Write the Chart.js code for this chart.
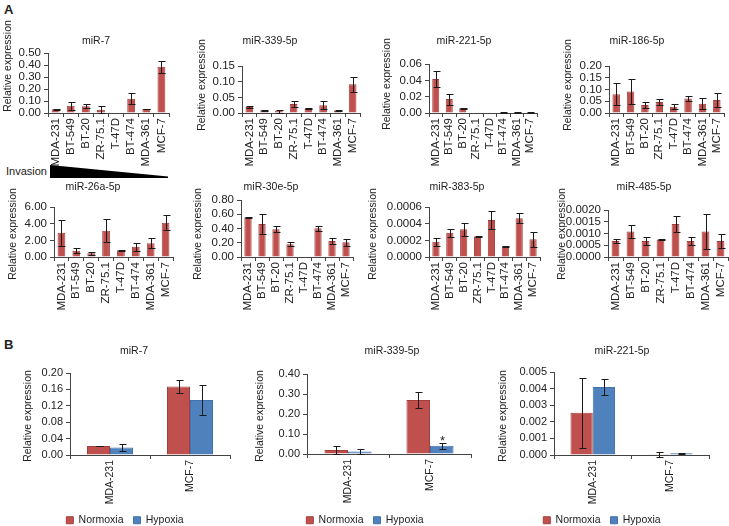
<!DOCTYPE html>
<html>
<head>
    <title>miRNA expression in breast cancer cell lines</title>
    <script src="https://cdn.jsdelivr.net/npm/chart.js"></script>
    <style>
        body {
            margin: 0;
            width: 729px;
            height: 526px;
            position: relative;
            overflow: hidden;
            background: white;
            font-family: "Liberation Sans", Arial, sans-serif;
            color: #222;
        }
        canvas { position: absolute; }
        .panel { position: absolute; font-weight: bold; font-size: 13px; }
        #invasion { position: absolute; left: 6px; top: 165px; font-size: 11px; }
        #wedge {
            position: absolute; left: 50px; top: 165px; width: 118px; height: 13px;
            background: #000;
            clip-path: polygon(0 0, 100% 88%, 100% 100%, 0 100%);
        }
    </style>
</head>
<body>
    <div class="panel" style="left:4px;top:2px">A</div>
    <div class="panel" style="left:4px;top:337px">B</div>
    <div id="invasion">Invasion</div>
    <div id="wedge"></div>

    <script>
        // ---- data ----
        const cellLines = ['MDA-231', 'BT-549', 'BT-20', 'ZR-75.1', 'T-47D', 'BT-474', 'MDA-361', 'MCF-7'];

        const mir7 = [0.032, 0.060, 0.056, 0.028, 0, 0.118, 0.034, 0.385];
        const mir7Err = [0.003, 0.032, 0.018, 0.028, null, 0.045, 0.003, 0.05];
        const mir7Ticks = ['0.00', '0.10', '0.20', '0.30', '0.40', '0.50'];

        const mir339 = [0.019, 0.009, 0.006, 0.029, 0.015, 0.025, 0.008, 0.092];
        const mir339Err = [0.002, 0.002, 0.005, 0.010, 0.002, 0.013, 0.002, 0.024];
        const mir339Ticks = ['0.00', '0.05', '0.10', '0.15'];

        const mir221 = [0.0415, 0.017, 0.0057, 0, 0, 0.0008, 0.0008, 0.0008];
        const mir221Err = [0.010, 0.0068, 0.001, null, null, 0.0002, 0.0002, 0.0006];
        const mir221Ticks = ['0.00', '0.02', '0.04', '0.06'];

        const mir186 = [0.080, 0.091, 0.034, 0.047, 0.027, 0.062, 0.039, 0.055];
        const mir186Err = [0.046, 0.052, 0.011, 0.012, 0.010, 0.010, 0.023, 0.030];
        const mir186Ticks = ['0.00', '0.05', '0.10', '0.15', '0.20'];

        const mir26a = [2.90, 0.74, 0.44, 3.16, 0.80, 1.24, 1.64, 4.10];
        const mir26aErr = [1.55, 0.30, 0.20, 1.35, 0.04, 0.47, 0.60, 0.90];
        const mir26aTicks = ['0.00', '2.00', '4.00', '6.00'];

        const mir30e = [0.557, 0.463, 0.389, 0.178, 0, 0.403, 0.225, 0.206];
        const mir30eErr = [0.004, 0.135, 0.045, 0.030, null, 0.033, 0.047, 0.053];
        const mir30eTicks = ['0.00', '0.20', '0.40', '0.60', '0.80'];

        const mir383 = [0.000184, 0.000290, 0.000332, 0.000245, 0.000444, 0.000125, 0.000464, 0.000212];
        const mir383Err = [0.00005, 0.000048, 0.00008, 0.000003, 0.00011, 0.000002, 0.00006, 0.000086];
        const mir383Ticks = ['0.0000', '0.0002', '0.0004', '0.0006'];

        const mir485 = [0.00068, 0.00108, 0.00068, 0.00074, 0.00140, 0.00068, 0.00108, 0.00068];
        const mir485Err = [0.00008, 0.00028, 0.00016, 0.00001, 0.00035, 0.00018, 0.00073, 0.00029];
        const mir485Ticks = ['0.0000', '0.0005', '0.0010', '0.0015', '0.0020'];

        // panel B: normoxia vs hypoxia
        const hypoxiaLines = ['MDA-231', 'MCF-7'];
        const conditions = ['Normoxia', 'Hypoxia'];

        const b7Normoxia = [0.022, 0.167];
        const b7NormoxiaErr = [0.001, 0.017];
        const b7Hypoxia = [0.018, 0.134];
        const b7HypoxiaErr = [0.009, 0.036];
        const b7Ticks = ['0.00', '0.04', '0.08', '0.12', '0.16', '0.20'];

        const b339Normoxia = [0.020, 0.270];
        const b339NormoxiaErr = [0.021, 0.042];
        const b339Hypoxia = [0.012, 0.041];
        const b339HypoxiaErr = [0.011, 0.014];
        const b339HypoxiaSig = ['', '*'];
        const b339Ticks = ['0.00', '0.10', '0.20', '0.30', '0.40'];

        const b221Normoxia = [0.00255, 0.00005];
        const b221NormoxiaErr = [0.0021, 0.00015];
        const b221Hypoxia = [0.0041, 0.0001];
        const b221HypoxiaErr = [0.0005, 0.00003];
        const b221Ticks = ['0.000', '0.001', '0.002', '0.003', '0.004', '0.005'];

        const RED = '#c0504d';
        const RED_EDGE = '#a23f3c';
        const BLUE = '#4f81bd';
        const BLUE_EDGE = '#4172ad';
        const FONT = '"Liberation Sans", Arial, sans-serif';

        Chart.defaults.font.family = FONT;
        Chart.defaults.color = '#222';

        // error bars + significance marks, drawn through the y scale
        const errorBars = {
            id: 'errorBars',
            afterDatasetsDraw(chart) {
                const ctx = chart.ctx;
                const y = chart.scales.y;
                ctx.save();
                ctx.strokeStyle = '#1a1a1a';
                ctx.lineWidth = 1;
                chart.data.datasets.forEach((ds, i) => {
                    if (!ds.errors) return;
                    chart.getDatasetMeta(i).data.forEach((bar, j) => {
                        const e = ds.errors[j];
                        if (e == null) return;
                        const v = ds.data[j];
                        const x = Math.round(bar.x) + 0.5;
                        const hi = Math.round(y.getPixelForValue(v + e)) + 0.5;
                        const lo = Math.round(y.getPixelForValue(v - e)) + 0.5;
                        const cap = ds.cap || 3;
                        ctx.beginPath();
                        ctx.moveTo(x, hi); ctx.lineTo(x, lo);
                        ctx.moveTo(x - cap, hi); ctx.lineTo(x + cap + 1, hi);
                        ctx.moveTo(x - cap, lo); ctx.lineTo(x + cap + 1, lo);
                        ctx.stroke();
                        if (ds.marks && ds.marks[j]) {
                            ctx.fillStyle = '#222';
                            ctx.font = '13px ' + FONT;
                            ctx.textAlign = 'center';
                            ctx.textBaseline = 'alphabetic';
                            ctx.fillText(ds.marks[j], x, hi + 1);
                        }
                    });
                });
                ctx.restore();
            }
        };

        // chart title and y-axis title at fixed spots
        const sideText = {
            id: 'sideText',
            afterDraw(chart, args, o) {
                const ctx = chart.ctx;
                ctx.save();
                ctx.fillStyle = '#222';
                ctx.textAlign = 'center';
                ctx.textBaseline = 'middle';
                ctx.font = '10.5px ' + FONT;
                ctx.fillText(o.title, o.tx, o.ty);
                ctx.translate(o.yx, o.yy);
                ctx.rotate(-Math.PI / 2);
                ctx.font = '10.5px ' + FONT;
                ctx.fillText('Relative expression', 0, 0);
                ctx.restore();
            }
        };

        function makeChart(spec) {
            const [L, T, R, B] = spec.area;
            const yW = spec.yW || 46;
            const tickSize = spec.tickSize || 11.5;
            const left = Math.floor(Math.min(spec.yTitle[0] - 9, L - yW - 2));
            const top = Math.floor(Math.min(spec.titleAt[1] - 9, T - 14, spec.yTitle[1] - 52));
            const right = R + 16;
            const bottom = Math.max(B + spec.xH + (spec.legend ? 40 : 0) + 12, spec.yTitle[1] + 52);

            const canvas = document.createElement('canvas');
            canvas.width = right - left;
            canvas.height = bottom - top;
            canvas.style.left = left + 'px';
            canvas.style.top = top + 'px';
            document.body.appendChild(canvas);

            const ticks = spec.ticks;
            const pad = { left: 0, top: 0, right: 0, bottom: 0 };

            const chart = new Chart(canvas, {
                type: 'bar',
                data: { labels: spec.labels, datasets: spec.datasets },
                options: {
                    responsive: false,
                    animation: false,
                    devicePixelRatio: 1,
                    layout: { padding: pad },
                    plugins: {
                        legend: {
                            display: !!spec.legend,
                            position: 'bottom',
                            labels: {
                                boxWidth: 7,
                                boxHeight: 7,
                                padding: 10,
                                font: { size: 10.5 },
                                color: '#222'
                            }
                        },
                        tooltip: { enabled: false },
                        sideText: {
                            title: spec.title,
                            tx: spec.titleAt[0] - left,
                            ty: spec.titleAt[1] - top,
                            yx: spec.yTitle[0] - left,
                            yy: spec.yTitle[1] - top
                        }
                    },
                    scales: {
                        x: {
                            grid: { drawOnChartArea: false, tickLength: 4, color: '#444', offset: true },
                            border: { color: '#444' },
                            ticks: {
                                minRotation: 90,
                                maxRotation: 90,
                                autoSkip: false,
                                padding: 1,
                                font: { size: spec.labelSize || 11.5 },
                                color: '#222'
                            },
                            afterFit: s => { s.height = spec.xH; }
                        },
                        y: {
                            min: 0,
                            max: parseFloat(ticks[ticks.length - 1]),
                            grid: { drawOnChartArea: false, tickLength: 4, color: '#444' },
                            border: { color: '#444' },
                            ticks: {
                                autoSkip: false,
                                padding: 3,
                                font: { size: tickSize },
                                color: '#222',
                                callback: (v, i) => ticks[i]
                            },
                            afterBuildTicks: s => { s.ticks = ticks.map(t => ({ value: parseFloat(t) })); },
                            afterFit: s => { s.width = yW; }
                        }
                    }
                },
                plugins: [errorBars, sideText]
            });

            // nudge layout padding until the plot area sits where the reference has it
            for (let k = 0; k < 4; k++) {
                const a = chart.chartArea;
                pad.left += (L - left) - a.left;
                pad.top += (T - top) - a.top;
                pad.right += a.right - (R - left);
                pad.bottom += a.bottom - (B - top);
                chart.options.layout.padding = { ...pad };
                chart.update('none');
            }
            return chart;
        }

        const single = (data, errors) => [{
            data: data,
            errors: errors,
            backgroundColor: RED,
            borderColor: RED_EDGE,
            borderWidth: 1,
            barPercentage: 0.52,
            categoryPercentage: 1,
            cap: 3
        }];

        const paired = (n, nErr, h, hErr, hMarks) => [
            {
                label: conditions[0], data: n, errors: nErr,
                backgroundColor: RED, borderColor: RED_EDGE, borderWidth: 1,
                barPercentage: 1, categoryPercentage: 0.575, cap: 3
            },
            {
                label: conditions[1], data: h, errors: hErr, marks: hMarks,
                backgroundColor: BLUE, borderColor: BLUE_EDGE, borderWidth: 1,
                barPercentage: 1, categoryPercentage: 0.575, cap: 3
            }
        ];

        // panel A, top row
        makeChart({ title: 'miR-7', titleAt: [96, 41], yTitle: [8, 66], area: [48, 53, 169, 113], xH: 55,
            labels: cellLines, ticks: mir7Ticks, datasets: single(mir7, mir7Err) });
        makeChart({ title: 'miR-339-5p', titleAt: [270, 41], yTitle: [202, 85], area: [242, 66, 360, 113], xH: 55,
            labels: cellLines, ticks: mir339Ticks, datasets: single(mir339, mir339Err) });
        makeChart({ title: 'miR-221-5p', titleAt: [464, 41], yTitle: [387, 84], area: [429, 64, 537, 113], xH: 55,
            labels: cellLines, ticks: mir221Ticks, datasets: single(mir221, mir221Err) });
        makeChart({ title: 'miR-186-5p', titleAt: [637, 41], yTitle: [568, 85], area: [609, 66, 724, 113], xH: 55,
            labels: cellLines, ticks: mir186Ticks, datasets: single(mir186, mir186Err) });

        // panel A, bottom row
        makeChart({ title: 'miR-26a-5p', titleAt: [93, 187], yTitle: [13, 234], area: [54, 207, 173, 257], xH: 55,
            labels: cellLines, ticks: mir26aTicks, datasets: single(mir26a, mir26aErr) });
        makeChart({ title: 'miR-30e-5p', titleAt: [271, 187], yTitle: [198, 234], area: [241, 200, 353, 257], xH: 55,
            labels: cellLines, ticks: mir30eTicks, datasets: single(mir30e, mir30eErr) });
        makeChart({ title: 'miR-383-5p', titleAt: [457, 187], yTitle: [373, 234], area: [429, 207, 540, 257], xH: 55,
            labels: cellLines, ticks: mir383Ticks, datasets: single(mir383, mir383Err) });
        makeChart({ title: 'miR-485-5p', titleAt: [644, 187], yTitle: [562, 234], area: [608, 210, 728, 257], xH: 55,
            labels: cellLines, ticks: mir485Ticks, datasets: single(mir485, mir485Err) });

        // panel B
        makeChart({ title: 'miR-7', titleAt: [134, 351], yTitle: [28, 416], area: [70, 373, 230, 455], xH: 50, yW: 50,
            tickSize: 11, labelSize: 10.5, legend: true, labels: hypoxiaLines, ticks: b7Ticks,
            datasets: paired(b7Normoxia, b7NormoxiaErr, b7Hypoxia, b7HypoxiaErr) });
        makeChart({ title: 'miR-339-5p', titleAt: [392, 351], yTitle: [260, 416], area: [307, 374, 471, 454], xH: 51, yW: 48,
            tickSize: 11, labelSize: 10.5, legend: true, labels: hypoxiaLines, ticks: b339Ticks,
            datasets: paired(b339Normoxia, b339NormoxiaErr, b339Hypoxia, b339HypoxiaErr, b339HypoxiaSig) });
        makeChart({ title: 'miR-221-5p', titleAt: [622, 351], yTitle: [503, 416], area: [554, 372, 709, 455], xH: 50, yW: 59,
            tickSize: 11, labelSize: 10.5, legend: true, labels: hypoxiaLines, ticks: b221Ticks,
            datasets: paired(b221Normoxia, b221NormoxiaErr, b221Hypoxia, b221HypoxiaErr) });
    </script>
</body>
</html>
